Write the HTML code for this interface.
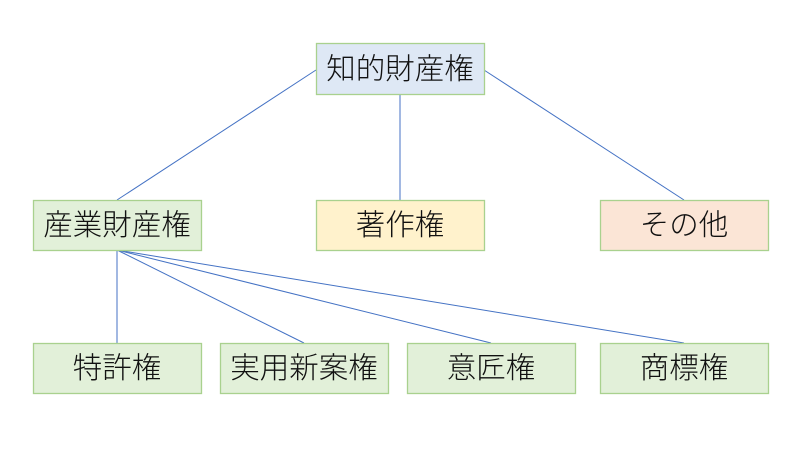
<!DOCTYPE html>
<html><head><meta charset="utf-8"><style>
html,body{margin:0;padding:0;background:#fff;}
text{font-family:"Liberation Sans","Noto Sans CJK JP",sans-serif;font-size:29.5px;font-weight:300;fill:#111;}
</style></head><body>
<svg width="800" height="450" xmlns="http://www.w3.org/2000/svg">
<g stroke="#4472c4" stroke-width="1" fill="none">
<line x1="316" y1="70" x2="117" y2="200"/>
<line x1="400" y1="94" x2="400" y2="200"/>
<line x1="484" y1="70" x2="684" y2="200"/>
<line x1="117" y1="250" x2="117" y2="343"/>
<line x1="117" y1="250" x2="304" y2="343"/>
<line x1="117" y1="250" x2="491" y2="343"/>
<line x1="117" y1="250" x2="684" y2="343"/>
</g>
<g stroke="#a9d18e" stroke-width="1.3">
<rect x="316.5" y="43.5" width="168" height="51" fill="#dee8f5"/>
<rect x="33.5" y="200.5" width="168" height="50" fill="#e2f0d9"/>
<rect x="316.5" y="200.5" width="168" height="50" fill="#fff2cc"/>
<rect x="600.5" y="200.5" width="168" height="50" fill="#fbe5d6"/>
<rect x="33.5" y="343.5" width="168" height="50" fill="#e2f0d9"/>
<rect x="220.5" y="343.5" width="168" height="50" fill="#e2f0d9"/>
<rect x="407.5" y="343.5" width="168" height="50" fill="#e2f0d9"/>
<rect x="600.5" y="343.5" width="168" height="50" fill="#e2f0d9"/>
</g>
<g text-anchor="middle">
<text x="400" y="79">知的財産権</text>
<text x="117" y="235">産業財産権</text>
<text x="400" y="235">著作権</text>
<text x="684" y="235">その他</text>
<text x="117" y="378">特許権</text>
<text x="304" y="378">実用新案権</text>
<text x="491" y="378">意匠権</text>
<text x="684" y="378">商標権</text>
</g>
</svg>
</body></html>
